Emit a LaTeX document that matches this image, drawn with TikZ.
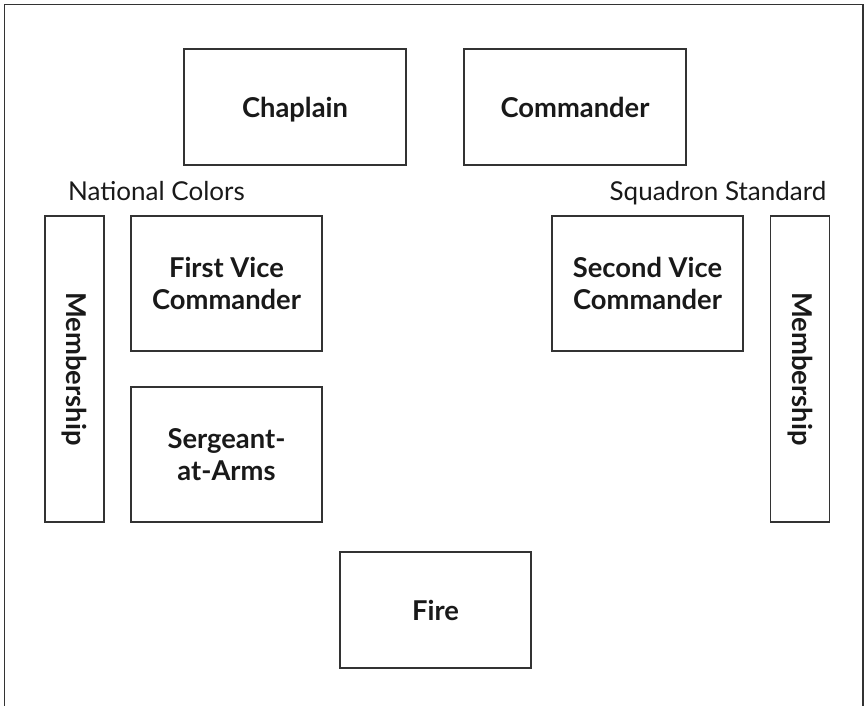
\documentclass[tikz,border=0pt]{standalone}
\usepackage{fontspec}
\setmainfont{Lato}
\usepackage{tikz}
\tikzset{
  seat/.style={draw=black!80, line width=0.9pt, rectangle, inner sep=0pt, align=center,
    text=black!90, font=\bfseries\fontsize{20.5}{24}\selectfont},
  seatsize/.style 2 args={minimum width=#1*0.75pt, minimum height=#2*0.75pt},
  flag/.style={anchor=base, inner sep=0pt, text=black!90, font=\fontsize{19.5}{24}\selectfont}
}

\begin{document}
\begin{tikzpicture}[x=0.75pt, y=-0.75pt]
		%%%%% START %%%%%
		
		\useasboundingbox (0, 0) rectangle (867, 706);
		\draw[line width=0.9pt, color=black!80] (4.5, 706) -- (4.5, 4.5) -- (863, 4.5) -- (863, 706);
		
		\node[seat, text depth=0pt, seatsize={222}{116}] (chaplain) at (295, 107) {Chaplain};
		\node[seat, seatsize={222}{116}] (commander) at (575, 107) {Commander};
		
		\node[flag] (colors) at (156.5, 200) {National Colors};
		\node[flag] (standard) at (718, 200) {Squadron Standard};
		
		\node[seat, seatsize={191}{135}] (firstvice) at (226.5, 283.5) {First Vice\\Commander};
		\node[seat, seatsize={191}{135}] (sergeant) at (226.5, 454.5) {Sergeant-\\at-Arms};
		\node[seat, seatsize={191}{135}] (secondvice) at (647.5, 283.5) {Second Vice\\Commander};
		
		\node[seat, rotate=-90, seatsize={306}{59}] (memleft) at (74.5, 369) {Membership};
		\node[seat, rotate=-90, seatsize={306}{59}] (memright) at (800, 369) {Membership};
		
		\node[seat, seatsize={191}{116}] (fire) at (435.5, 610) {Fire};
		
		%%%%% END %%%%%
	\end{tikzpicture}
\end{document}
